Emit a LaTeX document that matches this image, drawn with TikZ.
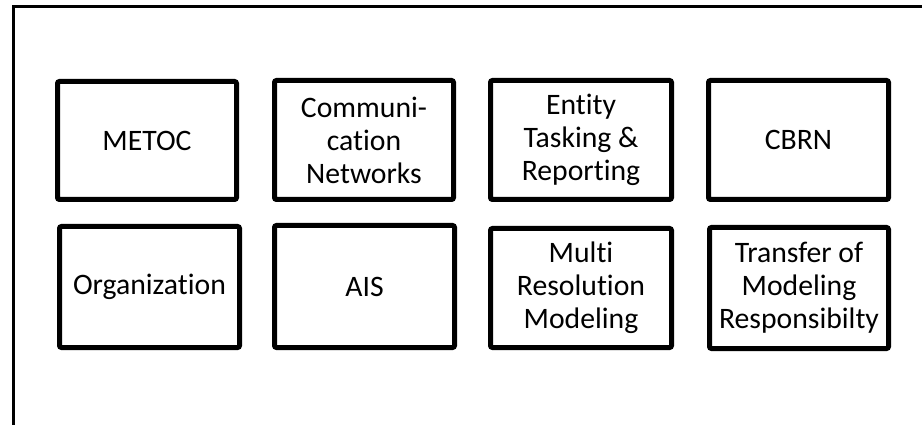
\documentclass[tikz,border=0pt]{standalone}
\usepackage{fontspec}
\setmainfont[Ligatures={NoCommon}]{Carlito}
\begin{document}
\begin{tikzpicture}[x=1pt,y=-1pt,
  card/.style={draw=black, line width=5pt, rounded corners=2pt, inner sep=0pt,
    align=center, font=\fontsize{29.7}{33}\selectfont},
  frame/.style={draw=black, line width=3pt}]
\useasboundingbox (0,0) rectangle (922,425);
\draw[frame] (13,425) -- (13,7) -- (922,7);
\node[card, minimum width=179pt, minimum height=118pt] (metoc) at (147,140.5) {METOC};
\node[card, minimum width=179pt, minimum height=119pt] (comm) at (364,140) {Communi-\\cation\\Networks};
\node[card, minimum width=181pt, minimum height=119pt] (entity) at (581,140) {Entity\\Tasking \&\\Reporting};
\node[card, minimum width=180pt, minimum height=119pt] (cbrn) at (798.5,140) {CBRN};
\node[card, minimum width=180pt, minimum height=121pt] (org) at (149.5,287) {Organization};
\node[card, minimum width=180pt, minimum height=122pt] (ais) at (364.5,286.5) {AIS};
\node[card, minimum width=181pt, minimum height=119pt] (multi) at (581,288) {Multi\\Resolution\\Modeling};
\node[card, minimum width=179pt, minimum height=121pt] (tmr) at (799,288) {Transfer of\\Modeling\\Responsibilty};
\end{tikzpicture}
\end{document}
